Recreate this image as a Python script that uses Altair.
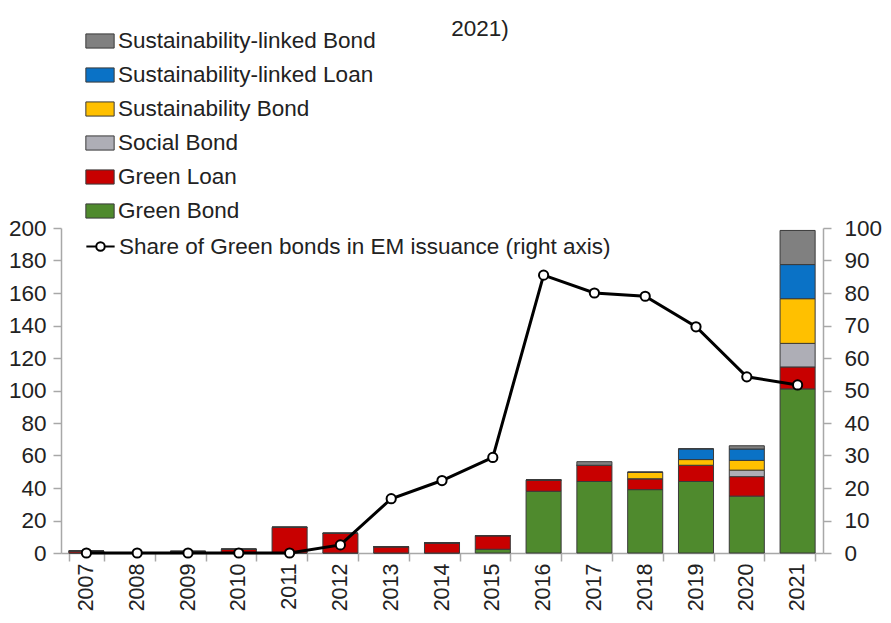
import altair as alt
import pandas as pd

years = [str(y) for y in range(2007, 2022)]

green_bond = [0, 0, 0, 0, 0, 0, 0, 0, 2.3, 38, 44, 39, 44, 35, 101]
green_loan = [1.2, 0.3, 1.0, 2.3, 15.8, 12.1, 3.9, 6.3, 8.4, 7, 10, 6.7, 10, 12, 13.5]
social_bond = [0, 0, 0, 0, 0, 0, 0, 0, 0, 0, 0, 0, 0, 4, 14.5]
sust_bond = [0, 0, 0, 0, 0, 0, 0, 0, 0, 0, 0, 4, 3.5, 6, 27.5]
sl_loan = [0, 0, 0, 0, 0, 0, 0, 0, 0, 0, 0, 0, 6.6, 7, 21]
sl_bond = [0, 0, 0, 0, 0, 0, 0, 0, 0, 0, 2.2, 0, 0, 2, 21]

share_green = [0, 0, 0, 0, 0, 2.5, 16.7, 22.3, 29.4, 85.5, 80, 79, 69.6, 54.2, 51.7]

legend_order = [
    "Sustainability-linked Bond",
    "Sustainability-linked Loan",
    "Sustainability Bond",
    "Social Bond",
    "Green Loan",
    "Green Bond",
]
colors = ["#808080", "#0a72c6", "#ffc000", "#aeaeb6", "#c80000", "#4f8a2d"]
line_label = "Share of Green bonds in EM issuance (right axis)"

series = {
    "Green Bond": green_bond,
    "Green Loan": green_loan,
    "Social Bond": social_bond,
    "Sustainability Bond": sust_bond,
    "Sustainability-linked Loan": sl_loan,
    "Sustainability-linked Bond": sl_bond,
}

rows = []
for idx, (name, vals) in enumerate(series.items()):
    for y, v in zip(years, vals):
        rows.append({"year": y, "type": name, "value": v, "stack": idx})
bars_df = pd.DataFrame(rows)

line_df = pd.DataFrame({"year": years, "share": share_green, "series": line_label})

FONT = "Liberation Sans"
TXT = "#222222"
FS = 22.5

x_enc = alt.X(
    "year:N",
    sort=years,
    scale=alt.Scale(paddingInner=0.31, paddingOuter=0.155),
    axis=alt.Axis(
        title=None,
        labelAngle=-90,
        tickBand="extent",
        labelPadding=2,
        labelFontSize=21.5,
        tickSize=8,
    ),
)

bars = (
    alt.Chart(bars_df)
    .mark_bar(stroke="#3a3a3a", strokeWidth=1)
    .encode(
        x=x_enc,
        y=alt.Y(
            "value:Q",
            stack="zero",
            scale=alt.Scale(domain=[0, 200], nice=False),
            axis=alt.Axis(
                title=None,
                orient="left",
                values=list(range(0, 201, 20)),
                tickSize=8,
                labelPadding=7,
            ),
        ),
        fill=alt.Fill(
            "type:N",
            scale=alt.Scale(domain=legend_order, range=colors),
            legend=alt.Legend(
                title=None,
                orient="none",
                legendX=24,
                legendY=-202,
                symbolType="M-1,-0.5H1V0.5H-1Z",
                symbolSize=800,
                symbolStrokeColor="#3a3a3a",
                symbolStrokeWidth=1,
                labelFont=FONT,
                labelFontSize=FS,
                labelColor=TXT,
                labelOffset=3,
                rowPadding=7,
                padding=0,
                labelLimit=500,
            ),
        ),
        order=alt.Order("stack:Q", sort="ascending"),
    )
)

line = (
    alt.Chart(line_df)
    .mark_line(
        strokeWidth=3,
        point=alt.OverlayMarkDef(
            filled=True, fill="white", stroke="black", strokeWidth=2, size=85
        ),
    )
    .encode(
        x=x_enc,
        y=alt.Y(
            "share:Q",
            scale=alt.Scale(domain=[0, 100], nice=False),
            axis=alt.Axis(
                title=None,
                orient="right",
                values=list(range(0, 101, 10)),
                tickSize=8,
                labelPadding=13,
            ),
        ),
        stroke=alt.Stroke(
            "series:N",
            scale=alt.Scale(domain=[line_label], range=["black"]),
            legend=alt.Legend(
                title=None,
                orient="none",
                legendX=24,
                legendY=3,
                symbolType="M-1,0H-0.3M0.3,0H1M-0.3,0A0.3,0.3 0 1,1 0.3,0A0.3,0.3 0 1,1 -0.3,0",
                symbolSize=800,
                symbolFillColor="white",
                symbolStrokeWidth=2,
                labelFont=FONT,
                labelFontSize=FS,
                labelColor=TXT,
                labelOffset=3,
                padding=0,
                labelLimit=600,
            ),
        ),
    )
)

chart = (
    alt.layer(bars, line)
    .resolve_scale(y="independent", fill="independent", stroke="independent")
    .properties(
        width=762,
        height=325,
        padding={"left": 53, "top": 220, "right": 60, "bottom": 61},
        autosize=alt.AutoSizeParams(type="none"),
        title=alt.TitleParams(
            text="2021)",
            font=FONT,
            fontSize=FS,
            fontWeight="normal",
            color=TXT,
            anchor="middle",
            frame="group",
            dx=38,
            dy=18,
        ),
    )
    .configure_view(stroke=None)
    .configure_axis(
        grid=False,
        domainColor="#a8a8a8",
        tickColor="#a8a8a8",
        domainWidth=1.5,
        tickWidth=1.5,
        labelFont=FONT,
        labelFontSize=FS,
        labelColor=TXT,
    )
)

chart.save("out.html", embed_options={"renderer": "svg", "actions": False})
